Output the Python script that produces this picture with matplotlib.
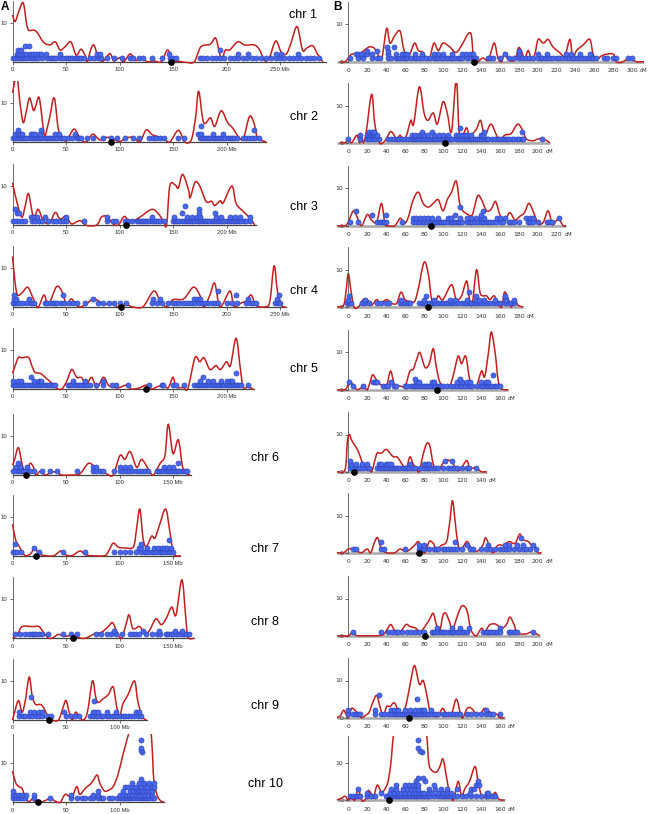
import matplotlib.pyplot as plt
from matplotlib.path import Path
from matplotlib.patches import PathPatch

W, H = 648, 814

chroms = [1, 2, 3, 4, 5, 6, 7, 8, 9, 10]

# ---- panel A: physical position (Mb) ----
mb_curve = {
    1: [(0, 12), (2.5, 10.3), (6, 13), (10, 15.1), (13, 10), (15, 8.1), (19.7, 8.1), (23, 7.5), (29, 5), (35, 4.3),
        (40, 5.1), (44.5, 3), (49, 3.8), (54.5, 5.1), (59.5, 1.7), (64, 3.2), (68, 1.5), (70, 0), (73, 3), (76, 4.3),
        (79, 2), (81.5, 0.5), (85, 0.2), (91, 2.1), (94.7, 0.2), (100, 1), (104, 0), (110, 2), (115, 0.3), (120, 1),
        (126, 0), (132, 0.2), (139, 0), (145, 3), (150, 0.3), (156, 0.1), (163, -0.2), (170, 0), (176, 3.8),
        (185, 4.5), (190, 6), (195, 0.8), (199, 3), (203, 3), (210.5, 5.1), (217, 4.3), (226, 4.3), (231, 3),
        (235.5, 0.3), (240, 1), (246, 5.3), (251, 2.5), (256, 2), (260.5, 5), (266, 9), (271, 3), (275, 3.5),
        (280.6, 4.1), (285, 2), (290, 0)],
    2: [(0, 12.6), (4, 17), (7, 10), (10, 5), (13, 8), (16, 11.3), (19.6, 8.1), (22, 9.5), (25, 11.3), (29, 3),
        (30.4, 1.5), (34.5, 6), (39, 11.3), (43, 3), (47.5, 1), (50.6, 0.3), (57.5, 3.3), (63, 1), (68.6, 0), (75, 2),
        (81.7, 0.5), (88, 1.2), (94, 0.8), (100, 0.1), (106, 1), (113, 1.2), (119, 0), (125, 3.1), (131, 1.8),
        (141, 1), (147, 0), (155, 3), (161, 0), (167, 0.5), (171, 6), (174, 13), (178.6, 5), (185, 6.2), (189, 4),
        (195, 8), (201, 5), (206, 3.5), (212, 1), (216, 1), (221.4, 6.5), (225.5, 5), (229, 1), (234, 0.3), (237, 0)],
    3: [(0, 10.8), (4, 6), (8.7, 2), (12, 5), (15, 8), (19.6, 2), (24, 4), (29, 1), (34.5, 0.5), (40, 3.2),
        (44.5, 1.5), (50, 2.3), (55, 0.3), (63, 1.1), (69, -0.1), (78.7, 0), (83, 2), (88, 2.2), (94, 0.3), (99, 0),
        (104.5, 2.2), (110, 0.7), (119, 2), (130, 4), (136, 3), (141, 1), (144, 0), (147, 10), (152, 10.3),
        (155, 9.5), (159, 13), (164.5, 9), (166, 7), (170.7, 11), (175, 10), (181, 6), (186, 6.1), (189, 5),
        (194, 6.2), (197, 5.7), (205, 10), (209, 5.5), (215.6, 3.5), (221, 2), (226.5, 0)],
    4: [(0, 12.9), (2.5, 6), (4.7, 3), (8.7, 3.5), (14, 5), (18, 3), (22.7, 0), (25, 0.3), (29.5, 3), (33.6, 0.5),
        (41, 5.1), (46, 4), (50.7, 0.5), (55, 2), (61.6, 0), (68, 0.5), (75.6, 2), (82, 1.2), (86.5, 0.5), (91, 1),
        (99, 0), (106, 0.5), (113, -0.1), (122, 0), (132, 4), (138, 1.5), (144, 0), (150, 1.8), (160, 2), (169, 5),
        (175, 3), (179, 0), (184.5, 3), (189, 6), (194, 0), (203, 4), (206, 1), (208, 0), (214, 1), (218.7, 1.5),
        (223, 3), (228, 0.3), (237, 0), (240.6, 1.5), (244.5, 10.5), (247.6, 4), (251.6, 0.3), (255, 0)],
    5: [(0, 4), (2.5, 6), (5.6, 8.1), (8.7, 8), (15, 8.1), (18, 6), (21, 4.3), (26, 4), (30.5, 3), (36.7, 1.5),
        (41, 0.2), (46, 0), (50.7, 2), (55.4, 5), (60, 3), (64.7, 2.9), (68.7, 1), (74, 3), (78.7, 0.3), (85, 3),
        (89.6, 1), (94, 0.5), (99, 0.3), (106.7, 1), (111, 0), (119, 0.3), (125, 1), (130, 0), (134.7, 0.5),
        (141, 1), (145.6, 0.3), (150, 3), (153, 0.5), (159.6, 0.4), (164, 0.2), (170.5, 8), (175, 7), (179, 8),
        (184.5, 5), (190, 6), (194.4, 5), (200, 7), (203.7, 6), (209, 13), (213, 5), (215.6, 0.5), (220, 0.5),
        (225, 0)],
    6: [(0, 2.5), (2, 4), (5.6, 7), (9.6, 2), (13.4, 1), (16.5, 3), (19.6, 2), (22, 0), (26, 1), (30.5, 0), (35, 0.5),
        (40, 0.8), (46, 0), (54, 0), (63, 0.3), (71, 3), (77, 2), (82, 1), (88, 0.3), (94, 0), (100.5, 5), (105, 4),
        (110, 6), (116, 2), (120.7, 4), (127, 1.5), (131.6, 0), (138, 3), (142.5, 5), (145.6, 13), (150, 5.5),
        (155, 9), (159, 2), (163, 0.3), (166, 0)],
    7: [(0, 8.1), (3, 4), (6, 2.5), (9, 1), (12.3, 0), (17, 0.5), (20.7, 2), (24.7, 0.5), (31, 0), (38.6, 0),
        (45, 1.2), (49, 0.3), (55.5, 0), (63, 1.2), (68, 0.3), (74, 0), (86, 0), (89.5, 1), (94, 3.2), (99, 2.2),
        (105, 2), (113, 2.3), (116, 7), (119, 12), (122, 4.5), (125, 2.3), (130, 5), (133, 4.5), (137, 7.5),
        (143, 12), (146.6, 7), (150, 1), (153, 0), (157, 0)],
    8: [(0, 0), (4.6, 1), (9, 3), (18.5, 3), (24.7, 3), (29, 1.5), (34, 0), (38.6, 0.3), (43, 1), (49, 0.5),
        (55.5, 0.8), (61.7, 0.2), (68, 0), (77, 1.2), (83, 1.5), (89.5, 3), (93.5, 4), (97, 2), (101.8, 0),
        (106.5, 4), (109, 6), (112.6, 2.5), (119, 3), (123.5, 1), (128, 2), (134, 5), (139, 3.5), (143.5, 5),
        (148.8, 8), (152.8, 6), (158.3, 15), (162, 5), (164, 0.3), (169.7, 0)],
    9: [(0, 0), (2, 2), (5.6, 5), (9, 2), (12, 5), (15.6, 11), (18.5, 6), (21.6, 4), (26, 4), (29, 3.2), (33, 1),
        (37, 0), (43, 0), (47, 3), (50, 5), (53, 2), (56, 0), (59, 2), (62, 1), (66, 0), (70, 2), (74.7, 10),
        (77.7, 6), (80, 4.5), (85, 5.5), (89.5, 6.5), (94, 8.5), (97, 4), (100, 0.5), (103, 4), (108, 6.5),
        (114, 10), (117, 5), (121, 1), (125, 0)],
    10: [(0, 8), (3, 5), (6, 4), (9, 3.5), (12.3, 1), (15.4, 0.2), (18.5, 0.8), (21.5, 0), (26, 0), (31, 0.5),
         (35.4, 1), (40, 0.3), (44.6, 0), (49, 2), (53, 1.5), (55.4, 1), (60, 4), (63, 2), (67.7, 3.5), (74, 5),
         (79, 7), (81.5, 5), (85.5, 3), (89, 3), (94, 4), (98.5, 7), (103, 12), (106, 15), (109, 18), (115, 23),
         (122, 25), (128, 22), (130.5, 14), (132, 6), (135, 2), (138, 0.5), (141.5, 0)],
}

# QTL dots, keyed by stack height
mb_dots = {
    1: {1: [0, 2, 4, 6, 8, 10, 12, 14, 16, 18, 20, 22, 24, 28, 32, 35, 37, 39, 41, 44, 47, 50, 52, 54, 56, 58, 60, 62,
            64, 67, 72, 76, 80, 83, 88, 95, 102, 110, 113, 118, 122, 130, 140, 147, 150, 153, 175, 178, 182, 186,
            190, 194, 198, 203, 207, 211, 215, 219, 224, 228, 232, 237, 242, 246, 250, 254, 258, 262, 266, 270,
            274, 278, 282, 286],
        2: [4, 5.6, 7, 10, 12.8, 16.5, 19.6, 22, 25, 26.6, 31, 44, 79, 82, 146, 211, 220, 246, 251, 267],
        3: [4.7, 7.8, 193.5],
        4: [11.8, 15]},
    2: {1: [0, 2, 4, 6, 8, 10, 12, 14, 16, 18, 20, 22, 24, 26, 28, 30, 32, 34, 36, 38, 40, 42, 44, 46, 48, 52, 56, 60,
            62, 64, 70, 75, 85, 92, 98, 105, 113, 118, 128, 131, 134, 138, 142, 155, 160, 175, 177, 179, 181, 183,
            185, 187, 189, 191, 193, 195, 197, 199, 201, 203, 205, 207, 210, 215, 218, 221, 224, 227, 230],
        2: [2.5, 5.6, 7, 8.7, 17, 19.6, 21, 26, 40, 43, 58, 173, 176.5, 187, 197],
        3: [4.7, 26.4, 225.5],
        4: [176]},
    3: {1: [0, 3, 6, 9, 12, 18, 21, 25, 28, 33, 38, 41, 44, 47, 50, 67, 88, 94, 97, 105, 108, 112, 116, 118, 120, 122,
            124, 126, 128, 130, 132, 134, 136, 138, 142, 150, 152, 154, 156, 158, 160, 162, 164, 166, 168, 170, 172,
            174, 176, 178, 180, 182, 184, 186, 188, 190, 192, 194, 196, 198, 200, 202, 204, 206, 208, 210, 212, 214,
            216, 218, 222],
        2: [17, 20, 23, 30, 50, 88, 130, 151, 163, 168, 172, 175, 190, 195, 203, 208, 213, 222],
        3: [4, 6.5, 158, 174.5, 189],
        4: [2.5, 174.5],
        5: [161.5]},
    4: {1: [0, 2, 4, 6, 9, 13, 16, 18, 20, 30, 32, 35, 38, 40, 42, 45, 48, 53, 57, 60, 68, 80, 85, 90, 95, 100, 106,
            130, 135, 140, 145, 150, 153, 156, 159, 162, 165, 168, 171, 174, 177, 180, 183, 186, 189, 192, 200, 205,
            210, 218, 222, 225, 228, 245, 248, 250],
        2: [1, 3, 15, 75, 131, 138, 170, 172, 175, 220, 247],
        3: [1.5, 47.6, 209, 249.5],
        4: [192]},
    5: {1: [0, 2, 4, 6, 8, 10, 12, 14, 16, 18, 20, 22, 24, 26, 28, 30, 32, 34, 36, 38, 40, 52, 54, 56, 58, 60, 62, 64,
            66, 68, 70, 72, 78, 85, 93, 97, 108, 128, 140, 141, 150, 153, 160, 170, 172, 174, 176, 178, 180, 182,
            184, 186, 188, 190, 192, 194, 196, 198, 200, 202, 204, 206, 208, 210, 212, 214, 220],
        2: [0, 5, 8, 20, 25, 27, 57, 68, 85, 175, 183, 187, 195, 200, 203, 205],
        3: [17, 178],
        4: [209]},
    6: {1: [0, 3, 6, 8, 10, 12, 16, 20, 28, 35, 42, 60, 75, 78, 82, 85, 95, 100, 103, 106, 109, 112, 115, 118, 121,
            124, 127, 135, 137, 139, 141, 143, 145, 147, 149, 151, 153, 155, 157, 159, 161, 163],
        2: [3, 7, 14, 75, 78, 100, 105, 110, 142, 146, 150],
        3: [5, 155]},
    7: {1: [0, 2, 4, 8, 25, 47, 68, 95, 100, 105, 110, 115, 120, 123, 125, 128, 130, 132, 135, 138, 140, 142, 144,
            146, 148, 150],
        2: [20, 118, 120, 126, 132, 136, 140, 142, 144, 148],
        3: [2, 120],
        4: [146]},
    8: {1: [2, 7, 12, 15, 18, 20, 22, 25, 28, 33, 47, 55, 60, 78, 83, 88, 92, 97, 102, 110, 113, 115, 118, 125, 130,
            135, 138, 143, 145, 148, 150, 153, 156, 158, 160, 162, 165],
        2: [95, 122, 137, 152, 158]},
    9: {1: [6, 10, 12, 15, 18, 22, 25, 28, 32, 36, 50, 55, 58, 62, 72, 75, 78, 80, 83, 85, 88, 90, 93, 95, 98, 100,
            103, 105, 108, 111, 114, 117, 120],
        2: [6, 16, 20, 25, 28, 48, 75, 77, 80, 88, 97, 115, 118],
        5: [76],
        6: [17]},
    10: {1: [0, 3, 6, 9, 12, 20, 35, 55, 60, 65, 68, 72, 75, 80, 83, 85, 90, 93, 98, 100, 102, 104, 106, 108, 110,
             112, 114, 116, 118, 120, 122, 124, 126, 128, 130, 132],
         2: [0, 3, 6, 9, 13, 20, 55, 75, 80, 100, 103, 106, 109, 112, 115, 118, 121, 124, 127, 130],
         3: [0, 80, 103, 110, 113, 116, 118, 120, 122, 125, 128, 130],
         4: [105, 108, 112, 115, 118, 120, 124, 126, 130, 132],
         5: [112, 118, 123, 128, 132],
         6: [120],
         13: [121], 13.5: [120.5], 14: [120], 16: [120]},
}

mb_centromere = [148.5, 91.6, 106, 101, 125, 13, 21.6, 57, 34, 24]
mb_length = [293, 237, 228, 256, 226, 167, 157, 170, 126, 142]
mb_last_tick = [250, 200, 200, 250, 200, 150, 150, 150, 100, 100]

# ---- panel B: genetic position (cM) ----
cm_curve = {
    1: [(-9, 0), (-3.5, 0), (0, 1), (3.5, 2), (9, 2), (14, 2.5), (19, 3.5), (23, 4), (28, 3.5), (33.4, 1), (36, 1.5),
        (40.5, 9), (44, 5), (49, 7), (54.5, 8.3), (58, 4), (61.5, 1), (65, 2), (70, 5), (74, 3), (79, 2.5),
        (82.6, 0.5), (86, 1), (90.4, 5), (95, 3), (100, 5), (107, 4), (114, 2.5), (121, 5), (126.6, 7.5), (130, 7),
        (132.6, 0), (137, 0), (142, 1), (148, 0.5), (154, 5), (158, 1), (162, 0), (165, 2.5), (169, 0.5),
        (176, 0.5), (180, 3.8), (184, 2), (186, 0.5), (190, 3), (193.5, 0.5), (197, 2), (200.5, 6), (206, 5),
        (211, 6), (216, 4), (223, 2.5), (228.6, 1.5), (234, 6), (237, 1), (241, 3), (248, 4.5), (255, 6),
        (258.5, 2), (262, 0.5), (267, 1.5), (272.6, 2), (280, 2), (283, 0), (288, -0.2), (293.7, 0.5), (299, 1),
        (304, 0), (313, 0)],
    2: [(-9, 0), (-3.5, 0), (0, 1), (3.5, 0), (9, 2), (12, 0), (14, 1.5), (16, 0), (19, 3), (24.6, 13), (28, 5),
        (32.7, 0), (38.7, 0.5), (45, 3), (51, 1), (54.5, 2), (58, 1), (61.5, 2), (66, 6), (69, 5), (75, 15), (80, 8),
        (84, 6), (89.7, 8), (94, 5), (100, 11), (104.5, 8), (109, 3), (114, 17), (117, 3), (120.6, 2), (124.9, 4),
        (128, 2), (135, 3.5), (139.6, 6), (144, 2), (150.5, 5), (156.5, 2), (160, 0.5), (165, 2), (172, 2.5),
        (179, 5), (184.7, 3), (188, 1), (195, 0.5), (200, 1), (205.8, 1), (212.8, 0)],
    3: [(-12, 0), (-3.5, 0), (0, 1), (5.3, 4), (9, 2.5), (14, 0), (20, 3), (24.6, 1.5), (30, 1), (35, 6), (38.7, 0.5),
        (42, 0), (49, 0), (55, 2), (58.7, 0.5), (63, 2), (68.6, 7), (74, 9), (79, 6), (84.4, 5), (89.7, 6), (95, 7),
        (100, 4), (104.5, 7), (109, 9), (114, 12), (117.6, 6), (121, 4), (126.6, 3), (131, 3), (136.5, 8),
        (140.7, 7), (146, 4), (151, 4.5), (155.5, 6.5), (160, 3), (165, 1.5), (170.6, 3.5), (176, 1.5), (181, 2.5),
        (186, 3.5), (190.6, 6), (195, 4), (200.5, 0.5), (206, 1), (211, 4), (215.6, 0.3), (220, 1.5), (223, 1.5),
        (227, 0), (230, 0)],
    4: [(-12, 0), (-5, 0.5), (-2.5, 4), (0, 9), (3, 4), (6, 0), (10.5, 0), (16, 2), (20, 2), (24.6, 0.5), (30, 2),
        (34, 1), (40.5, 2), (45.7, 1), (51, 1), (55.6, 4), (59.8, 2), (65, 1.5), (70, 1.5), (74, 5), (80, 12),
        (84.4, 9), (88, 2), (91.5, 1), (95, 3), (100, 2), (109, 6), (114, 2), (119.6, 3), (125, 7), (128, 2),
        (131, 1), (135.4, 10), (139, 4), (142, 3), (146, 3), (149.5, 2), (154, 3), (158, 1), (162, 0), (165, 4),
        (169, 2), (172, 0), (176, 2), (179, 0.5), (184.7, 0)],
    5: [(-12, 0), (-3.5, 0), (0, 1.5), (2.5, 2), (6, 1), (9.5, 0), (14, 0.5), (17.6, 0.5), (20, 0), (23, 2),
        (25.7, 4), (30, 2.5), (33.4, 1.5), (37, 1), (40.5, 1), (44.7, 5), (49, 1), (54.5, 1), (60, 1), (65, 5),
        (68.6, 5.5), (72, 8), (75.6, 10), (81, 6), (85.5, 7), (89.7, 11), (93, 6), (96.7, 2), (102, 1), (107, 1),
        (111, 4), (116, 9), (119.6, 7), (124, 9), (128, 3), (132, 1), (135.4, 1), (140.7, 5), (144, 3.5), (148, 10),
        (151, 15.5), (155, 10), (158, 3), (160.7, 0.5), (165, 0), (169, 0)],
    6: [(-12, 0), (-3.5, 0.5), (-1, 8), (1, 10), (3.5, 8.5), (7, 7), (10.5, 5.5), (14, 3), (17.6, 1), (21, 1),
        (24.6, 0), (28, 3), (30.6, 5), (35, 5), (40, 6), (44, 5), (47.5, 4), (51, 4), (54.5, 3), (58, 1.5),
        (61.5, 1), (65, 4), (68.6, 2), (71.4, 1), (75, 0), (78.4, 4), (82.6, 7.5), (86, 7), (89.7, 2), (93, 1),
        (96.7, 1), (102, 3), (107, 3), (111, 2), (114, 0.5), (118, 0.5), (125, 3), (128, 1), (132, 1), (135.4, 1),
        (140.7, 0), (146, 0)],
    7: [(-12, 0), (-5, 0), (0, 1), (3.5, 1), (9, 0.5), (14, 0), (20, 1), (23.6, 0), (28, 3), (31, 4), (35, 1),
        (40.5, 0), (49, 0), (54.5, 1), (58.7, 0.5), (63, 0.5), (70, 2), (74, 3), (77, 1), (81, 0), (85.5, 3),
        (89.7, 2.5), (93, 1), (98.5, 2), (103.8, 3), (107, 8), (110, 14), (113, 8), (116, 2), (119.6, 1),
        (124.9, 3), (128, 2), (132, 0.5), (137, 0.5), (142, 2), (145, 4), (149.5, 1.5), (153, 0), (158, 2),
        (163.6, 2), (170, 3), (176, 2.5), (181, 5), (184.7, 3.5), (190, 3), (193.5, 2), (197, 1.5), (200.5, 0),
        (204, 0)],
    8: [(-12, 0), (0, 0), (4.6, 1), (9, 0), (16, 0), (30, 0), (37, 0.3), (40.5, 1.5), (44.7, 3), (49, 1.5),
        (54.5, 1), (61, 3), (65, 2.5), (71.4, 2), (75.6, 1), (81, 2.5), (86, 4.5), (89.7, 6), (93, 3), (96.7, 1.5),
        (100, 5.5), (103, 6), (106.5, 4), (110, 1.5), (113.5, 4), (118.5, 7.5), (122, 8), (125.6, 6.5), (129, 2),
        (132, 0.5), (135.4, 0), (140.7, 2), (144, 1), (148.8, 2.8), (153, 3.2), (156.5, 3), (162, 2), (167, 3),
        (170.6, 5), (175, 3), (177.6, 1), (181, 0.5), (188, 0.5), (193.5, 1), (198.7, 0.5), (202, 0)],
    9: [(-12, 0), (-8.5, 0.5), (-5, 2), (-2.5, 1), (0, 0), (3.5, 2.5), (7, 2), (10.5, 1), (14, 0), (17.6, 0.5),
        (22, 1.5), (25.7, 4), (30, 6), (33.4, 3), (37, 0.5), (40.5, 3), (44, 3), (48.5, 4), (52.8, 2), (57.3, 1),
        (61.5, 4), (66, 10), (70, 14), (75, 9), (79, 10), (82.6, 6.5), (86, 2), (89.7, 0.5), (95, 0.5), (99.5, 2.5),
        (103.8, 1), (109, 1), (114, 5), (118.5, 1), (121, 0), (125.6, 2.5), (130, 2.5), (135.4, 1), (140.7, 1.5),
        (144, 2.5), (149.5, 1.5), (153.8, 1), (156.5, 1), (160, 0), (165, 0)],
    10: [(-12, 0), (-7, 0.5), (-3.5, 1), (0, 0), (3.5, 0.5), (7, 0), (10.5, 3), (14, 0), (17.6, 0), (21, 2.5),
         (24.6, 1.5), (26.4, 0.5), (30.6, 4), (35, 2), (38.7, 3), (42, 5), (45, 10), (47.5, 17), (52, 24), (65, 30),
         (78, 24), (82.6, 18), (85, 10), (88, 8), (93, 7.5), (96.7, 9), (100, 11), (103.8, 6), (107, 2), (111, 0),
         (116, 5), (119.6, 1), (123, 3), (128, 5), (133.8, 9), (137, 5), (140.7, 1), (144, 1), (147, 2),
         (149.5, 1), (153, 1.5), (155.5, 2), (158, 0.5), (161, 0), (165, 0)],
}

cm_dots = {
    1: {1: [2, 10, 15, 25, 30, 33, 42, 45, 50, 52, 55, 58, 60, 62, 66, 70, 72, 75, 78, 82, 86, 90, 93, 95, 98, 100,
            103, 105, 108, 110, 113, 116, 118, 120, 125, 130, 133, 135, 148, 150, 153, 160, 170, 175, 180, 183, 188,
            191, 195, 200, 203, 205, 208, 210, 213, 216, 220, 223, 226, 230, 233, 236, 238, 241, 244, 247, 250, 253,
            256, 258, 262, 270, 273, 280, 283, 295, 300],
        2: [8, 10, 13, 18, 20, 25, 42, 50, 57, 60, 62, 70, 78, 90, 95, 100, 110, 120, 124, 128, 132, 165, 180, 200,
            210, 230, 235, 245, 255],
        3: [20, 30, 42, 180],
        4: [41, 48]},
    2: {1: [0, 12, 20, 22, 25, 28, 32, 42, 45, 48, 51, 54, 57, 60, 63, 66, 68, 70, 72, 74, 76, 78, 80, 82, 84, 86, 88,
            90, 92, 94, 96, 98, 100, 102, 104, 106, 108, 110, 114, 116, 118, 120, 122, 124, 126, 128, 130, 132, 134,
            136, 138, 140, 142, 144, 146, 148, 152, 155, 158, 160, 163, 165, 168, 170, 173, 175, 178, 180, 183, 185,
            205],
        2: [12, 20, 22, 24, 26, 28, 30, 67, 70, 75, 78, 80, 84, 90, 96, 100, 105, 114, 117, 120, 123, 125, 130, 140,
            142],
        3: [22, 25, 27, 78, 88, 143, 183],
        4: [118]},
    3: {1: [2, 10, 30, 33, 36, 38, 40, 57, 68, 72, 75, 78, 80, 83, 86, 88, 90, 92, 94, 96, 98, 100, 102, 105, 108, 110,
            112, 114, 116, 118, 120, 125, 128, 131, 134, 137, 140, 142, 145, 148, 150, 153, 156, 160, 163, 170, 172,
            175, 180, 190, 192, 195, 200, 210, 212, 215],
        2: [68, 72, 76, 80, 84, 88, 95, 105, 108, 118, 125, 130, 135, 140, 143, 157, 160, 165, 188, 192, 195, 222],
        3: [25, 40, 113, 140],
        4: [8, 142],
        5: [118]},
    4: {1: [-1, 1, 3, 14, 18, 22, 30, 35, 40, 43, 55, 58, 60, 63, 65, 75, 78, 80, 82, 85, 88, 90, 92, 95, 98, 100, 103,
            105, 108, 110, 113, 116, 120, 123, 125, 128, 130, 133, 135, 138, 140, 143, 146, 150, 154, 157, 160, 165,
            168, 172, 175],
        2: [0, 18, 56, 80, 90, 107, 113, 125, 135, 138, 143, 155, 167, 175],
        3: [1, 82, 135, 165],
        4: [127]},
    5: {1: [5, 16, 37, 40, 42, 48, 50, 60, 62, 66, 68, 70, 72, 74, 76, 78, 80, 82, 84, 86, 88, 90, 92, 94, 96, 98,
            100, 104, 108, 112, 115, 118, 120, 123, 126, 128, 131, 136, 140, 142, 145, 148, 150, 152, 155, 157, 160],
        2: [1, 26, 28, 30, 45, 72, 75, 88, 90, 115, 120, 125, 128, 140, 145, 148],
        3: [70, 118],
        4: [153]},
    6: {1: [2, 5, 8, 10, 12, 15, 20, 22, 30, 33, 36, 38, 40, 42, 44, 46, 48, 50, 52, 55, 58, 60, 62, 64, 67, 70, 76,
            80, 83, 85, 88, 92, 95, 100, 105, 108, 112, 115, 120, 125, 127, 135],
        2: [3, 8, 14, 20, 32, 35, 40, 42, 45, 65, 80, 83, 85],
        3: [2, 102, 110]},
    7: {1: [5, 8, 35, 38, 60, 75, 78, 80, 85, 90, 93, 95, 100, 102, 105, 108, 112, 115, 120, 128, 132, 140, 145, 150,
            155, 160, 163, 166, 170, 175, 180, 185, 188, 192, 198],
        2: [75, 80, 125, 148, 165, 170, 178, 185, 195],
        3: [35, 113],
        4: [182]},
    8: {1: [5, 35, 42, 46, 50, 52, 57, 62, 66, 70, 75, 80, 88, 90, 92, 95, 98, 100, 102, 105, 108, 110, 112, 115, 117,
            120, 122, 125, 142, 145, 148, 150, 152, 155, 157, 160, 170, 172, 175, 178, 195],
        2: [94, 110, 118, 127, 160]},
    9: {1: [0, 5, 8, 10, 12, 28, 35, 38, 42, 45, 48, 50, 52, 55, 57, 59, 61, 63, 65, 67, 69, 71, 73, 75, 77, 79, 81,
            83, 85, 88, 92, 95, 100, 102, 105, 108, 112, 115, 118, 125, 130, 135, 140, 145, 150, 153, 160],
        2: [0, 28, 45, 48, 52, 60, 65, 70, 75, 78, 80, 87, 145],
        5: [73],
        6: [32]},
    10: {1: [2, 5, 8, 10, 12, 20, 24, 28, 40, 42, 44, 46, 48, 50, 52, 54, 56, 58, 60, 62, 64, 66, 68, 70, 72, 74, 76,
             78, 80, 82, 84, 86, 90, 95, 98, 100, 102, 104, 106, 108, 112, 115, 120, 124, 130, 135, 140, 145, 148,
             152, 155],
         2: [20, 35, 44, 48, 52, 56, 60, 64, 68, 72, 75, 78, 80, 85, 88, 95, 100, 104, 108, 128, 146, 148],
         3: [10, 45, 50, 58, 62, 66, 70, 74, 85, 92, 98, 104, 115, 130, 133],
         4: [50, 60, 64, 68, 72, 74, 90, 135, 138],
         5: [72, 81, 137],
         6: [74, 79],
         13: [77.4], 13.3: [75.6], 14: [74], 16: [74]},
}

cm_centromere = [132.6, 102, 87, 84.4, 94, 6, 75, 81, 64.4, 43]
cm_end = [315, 213, 230, 185, 169, 146, 204, 202, 165, 165]
cm_last_tick = [300, 200, 220, 180, 160, 140, 200, 200, 160, 160]

# ---- layout (pixels) ----
base_a = [61.7, 142, 225, 306.7, 389, 475, 555.7, 638.3, 720, 802.3]
base_b = [61.7, 142.7, 225.7, 307, 389.7, 471.7, 552.7, 635.7, 717.7, 800]
label_xy = [(303, 15), (304, 117), (304, 207), (304, 291), (304, 369),
            (265, 458), (265, 549), (265, 622), (265, 706), (265, 784)]

RED = '#c21f1f'
BLUE = '#4868ee'
BLUE_EDGE = '#2a3cae'

fig = plt.figure(figsize=(W / 100, H / 100), dpi=100)


def make_axes(x0, xs, xmin, xmax, base, ys, ytop, ybot=-1.6):
    left = x0 + xmin * xs
    bottom = base - ybot * ys
    ax = fig.add_axes([left / W, 1 - bottom / H, (xmax - xmin) * xs / W, (ytop - ybot) * ys / H])
    ax.set_xlim(xmin, xmax)
    ax.set_ylim(ybot, ytop)
    ax.patch.set_alpha(0)
    for s in ['top', 'right']:
        ax.spines[s].set_visible(False)
    ax.spines['left'].set_position(('data', 0))
    ax.spines['left'].set_bounds(0, ytop)
    ax.spines['left'].set_color('#555555')
    ax.spines['left'].set_linewidth(0.6)
    return ax


def smooth_line(ax, pts):
    # smooth stroke through the read-off points (cubic Bezier segments)
    verts = [pts[0]]
    codes = [Path.MOVETO]
    n = len(pts)
    for k in range(n - 1):
        p0 = pts[max(k - 1, 0)]
        p1, p2 = pts[k], pts[k + 1]
        p3 = pts[min(k + 2, n - 1)]
        c1 = (p1[0] + (p2[0] - p0[0]) / 6, p1[1] + (p2[1] - p0[1]) / 6)
        c2 = (p2[0] - (p3[0] - p1[0]) / 6, p2[1] - (p3[1] - p1[1]) / 6)
        verts += [c1, c2, p2]
        codes += [Path.CURVE4] * 3
    ax.add_patch(PathPatch(Path(verts, codes), fill=False, edgecolor=RED, lw=1.1, zorder=3))


def draw_panel(ax, curve, dots, cen):
    smooth_line(ax, curve)
    for lev, xs in dots.items():
        ax.plot(xs, [lev] * len(xs), 'o', ms=3.7, mfc=BLUE, mec=BLUE_EDGE, mew=0.4, zorder=4)
    ax.plot([cen], [0], 'o', ms=3.8, color='black', zorder=5, clip_on=False)


for i, c in enumerate(chroms):
    # column A
    ytop = 17.5 if c == 10 else 15.6
    ax = make_axes(12.5, 1.07, -8, 300, base_a[i], 3.9, ytop)
    draw_panel(ax, mb_curve[c], mb_dots[c], mb_centromere[i])
    ax.spines['bottom'].set_position(('data', 0))
    ax.spines['bottom'].set_bounds(0, mb_length[i])
    ax.spines['bottom'].set_color('#444444')
    ax.spines['bottom'].set_linewidth(0.9)
    ticks = list(range(0, mb_last_tick[i] + 1, 50))
    ax.set_xticks(ticks)
    ax.set_xticklabels([str(t) for t in ticks[:-1]] + [f'{ticks[-1]} Mb'], fontfamily='Liberation Sans')
    ax.set_yticks([10])
    ax.set_yticklabels(['10'], fontfamily='Liberation Sans')
    ax.tick_params(length=2, width=0.5, labelsize=4.2, pad=1.8, colors='#333333')

    # column B
    ytop = 17.3 if c == 10 else 16
    ax = make_axes(348.3, 0.947, -15, 312, base_b[i], 3.72, ytop)
    ax.plot([-12, cm_end[i]], [0, 0], color='#a8a8a8', lw=1.8, solid_capstyle='butt', zorder=1)
    draw_panel(ax, cm_curve[c], cm_dots[c], cm_centromere[i])
    ax.spines['bottom'].set_visible(False)
    ticks = list(range(0, cm_last_tick[i] + 1, 20))
    ax.set_xticks(ticks)
    ax.set_xticklabels([str(t) for t in ticks])
    ax.annotate('cM', xy=(ticks[-1], 0), xycoords=ax.get_xaxis_transform(),
                xytext=(5.6, -0.6), textcoords='offset points', ha='left', va='top',
                fontsize=4.0, color='#333333')
    ax.set_yticks([0, 10])
    ax.tick_params(axis='x', length=0, labelsize=4.4, pad=0.6, colors='#333333')
    ax.tick_params(axis='y', length=2, width=0.5, labelsize=4.4, pad=1.5, colors='#333333')

    lx, ly = label_xy[i]
    fig.text(lx / W, 1 - ly / H, f'chr {c}', fontsize=9, fontfamily='Liberation Sans',
             ha='center', va='center')

fig.text(0.5 / W, 1 - 10.5 / H, 'A', fontsize=8.5, fontweight='bold', fontfamily='Liberation Sans')
fig.text(333 / W, 1 - 10.5 / H, 'B', fontsize=8.5, fontweight='bold', fontfamily='Liberation Sans')

fig.savefig('out.png', dpi=100)
